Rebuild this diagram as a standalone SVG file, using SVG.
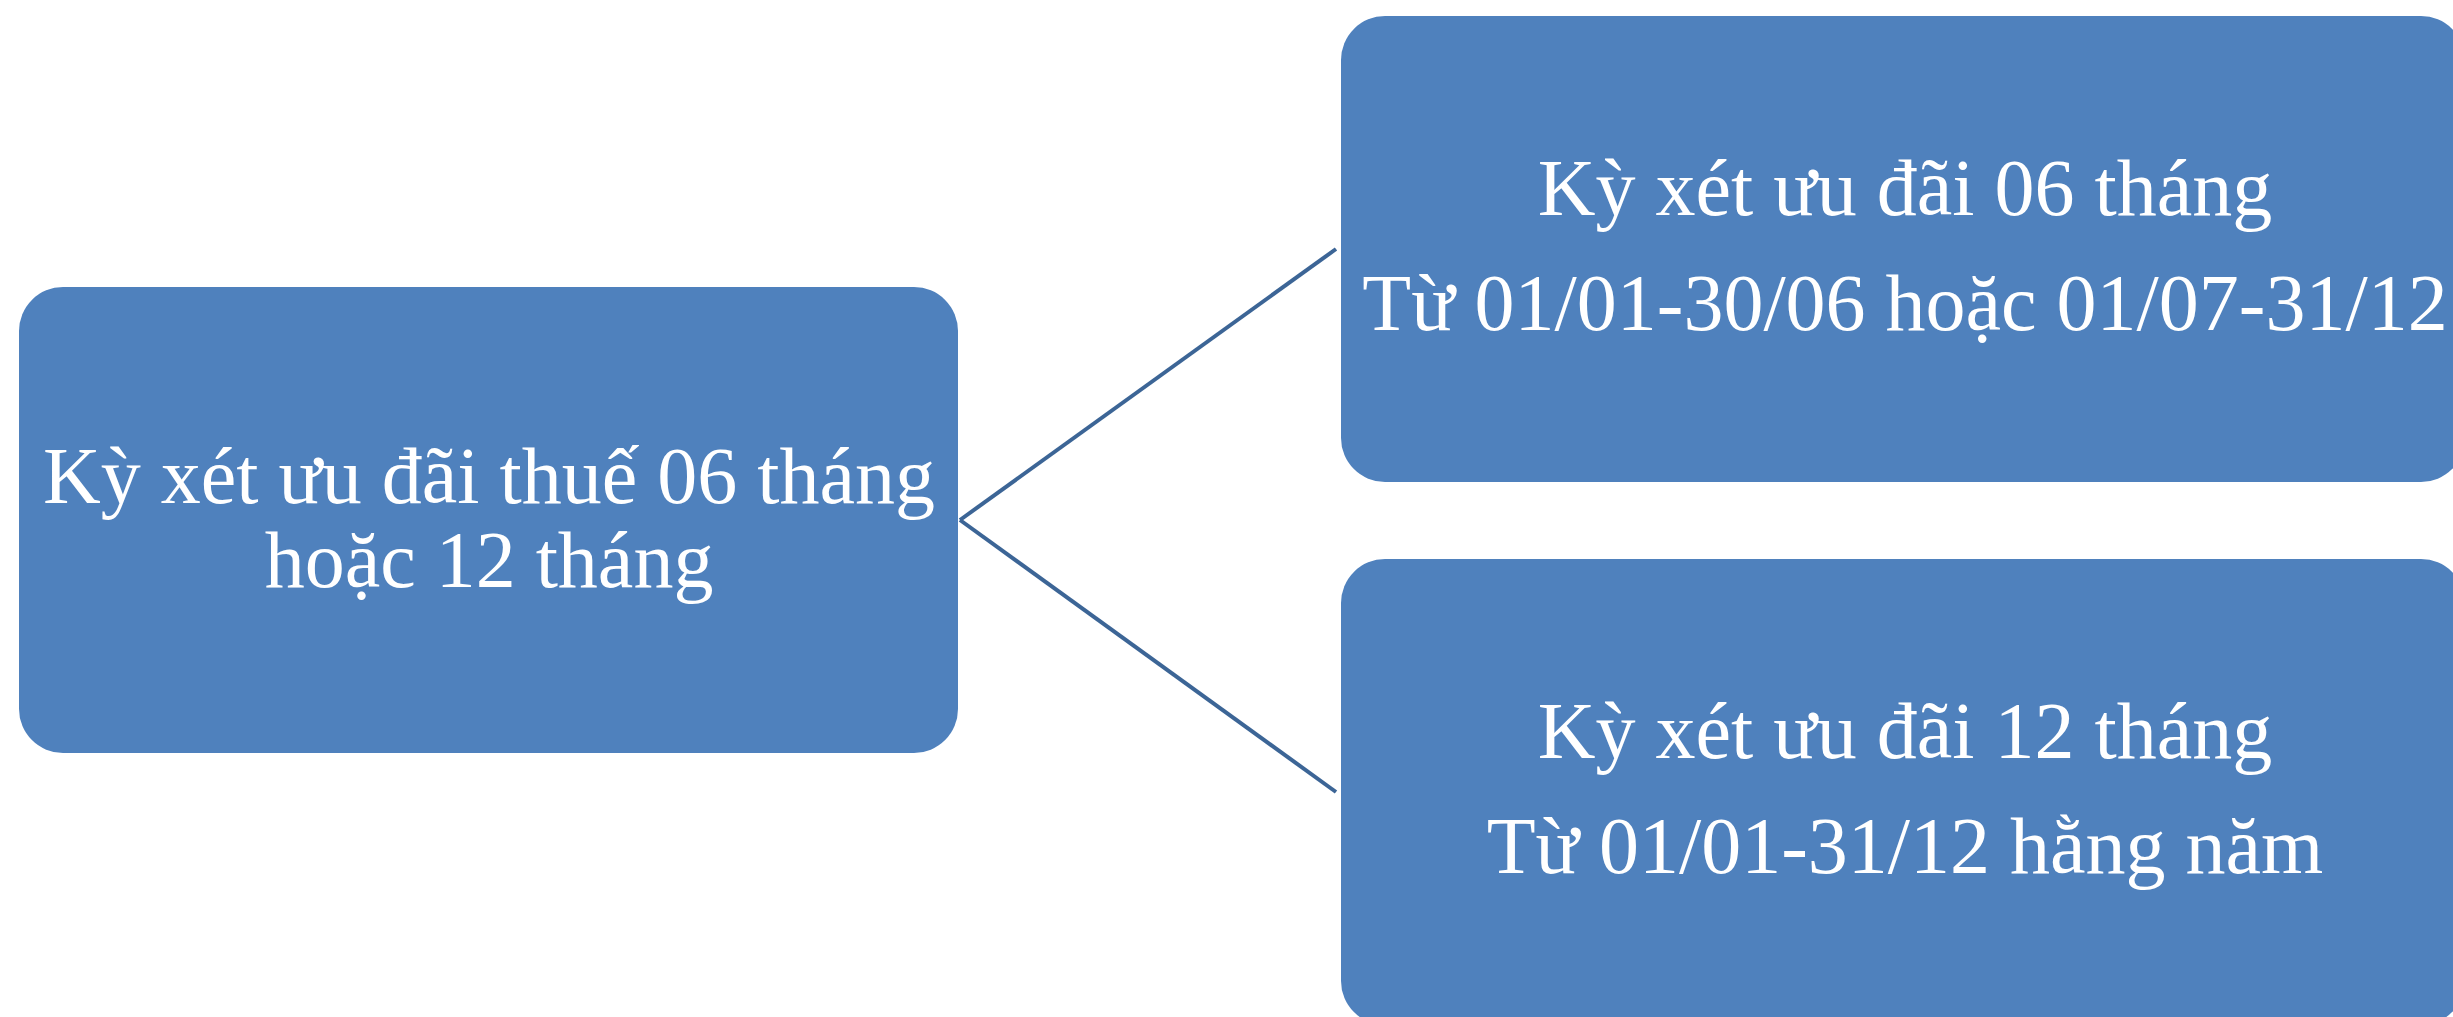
<svg xmlns="http://www.w3.org/2000/svg" width="2453" height="1017" viewBox="0 0 2453 1017">
<style>
.box{fill:#4f81bd;}
.t{font-family:"Liberation Serif","Times New Roman",serif;font-size:80px;fill:#ffffff;text-anchor:middle;}
.conn{stroke:#3c6596;stroke-width:4;fill:none;}
</style>
<rect width="2453" height="1017" fill="#ffffff"/>
<g id="connectors">
<line class="conn" x1="960" y1="520" x2="1336" y2="249"/>
<line class="conn" x1="960" y1="520" x2="1336" y2="792"/>
</g>
<g id="node-root">
<rect class="box" x="19" y="287" width="939" height="466" rx="44" ry="44"/>
<text class="t" x="489" y="503">Kỳ xét ưu đãi thuế 06 tháng</text>
<text class="t" x="489" y="587">hoặc 12 tháng</text>
</g>
<g id="node-6m">
<rect class="box" x="1341" y="16" width="1124" height="466" rx="44" ry="44"/>
<text class="t" x="1905" y="215">Kỳ xét ưu đãi 06 tháng</text>
<text class="t" x="1905" y="330">Từ 01/01-30/06 hoặc 01/07-31/12</text>
</g>
<g id="node-12m">
<rect class="box" x="1341" y="559" width="1124" height="466" rx="44" ry="44"/>
<text class="t" x="1905" y="758">Kỳ xét ưu đãi 12 tháng</text>
<text class="t" x="1905" y="873">Từ 01/01-31/12 hằng năm</text>
</g>
</svg>
